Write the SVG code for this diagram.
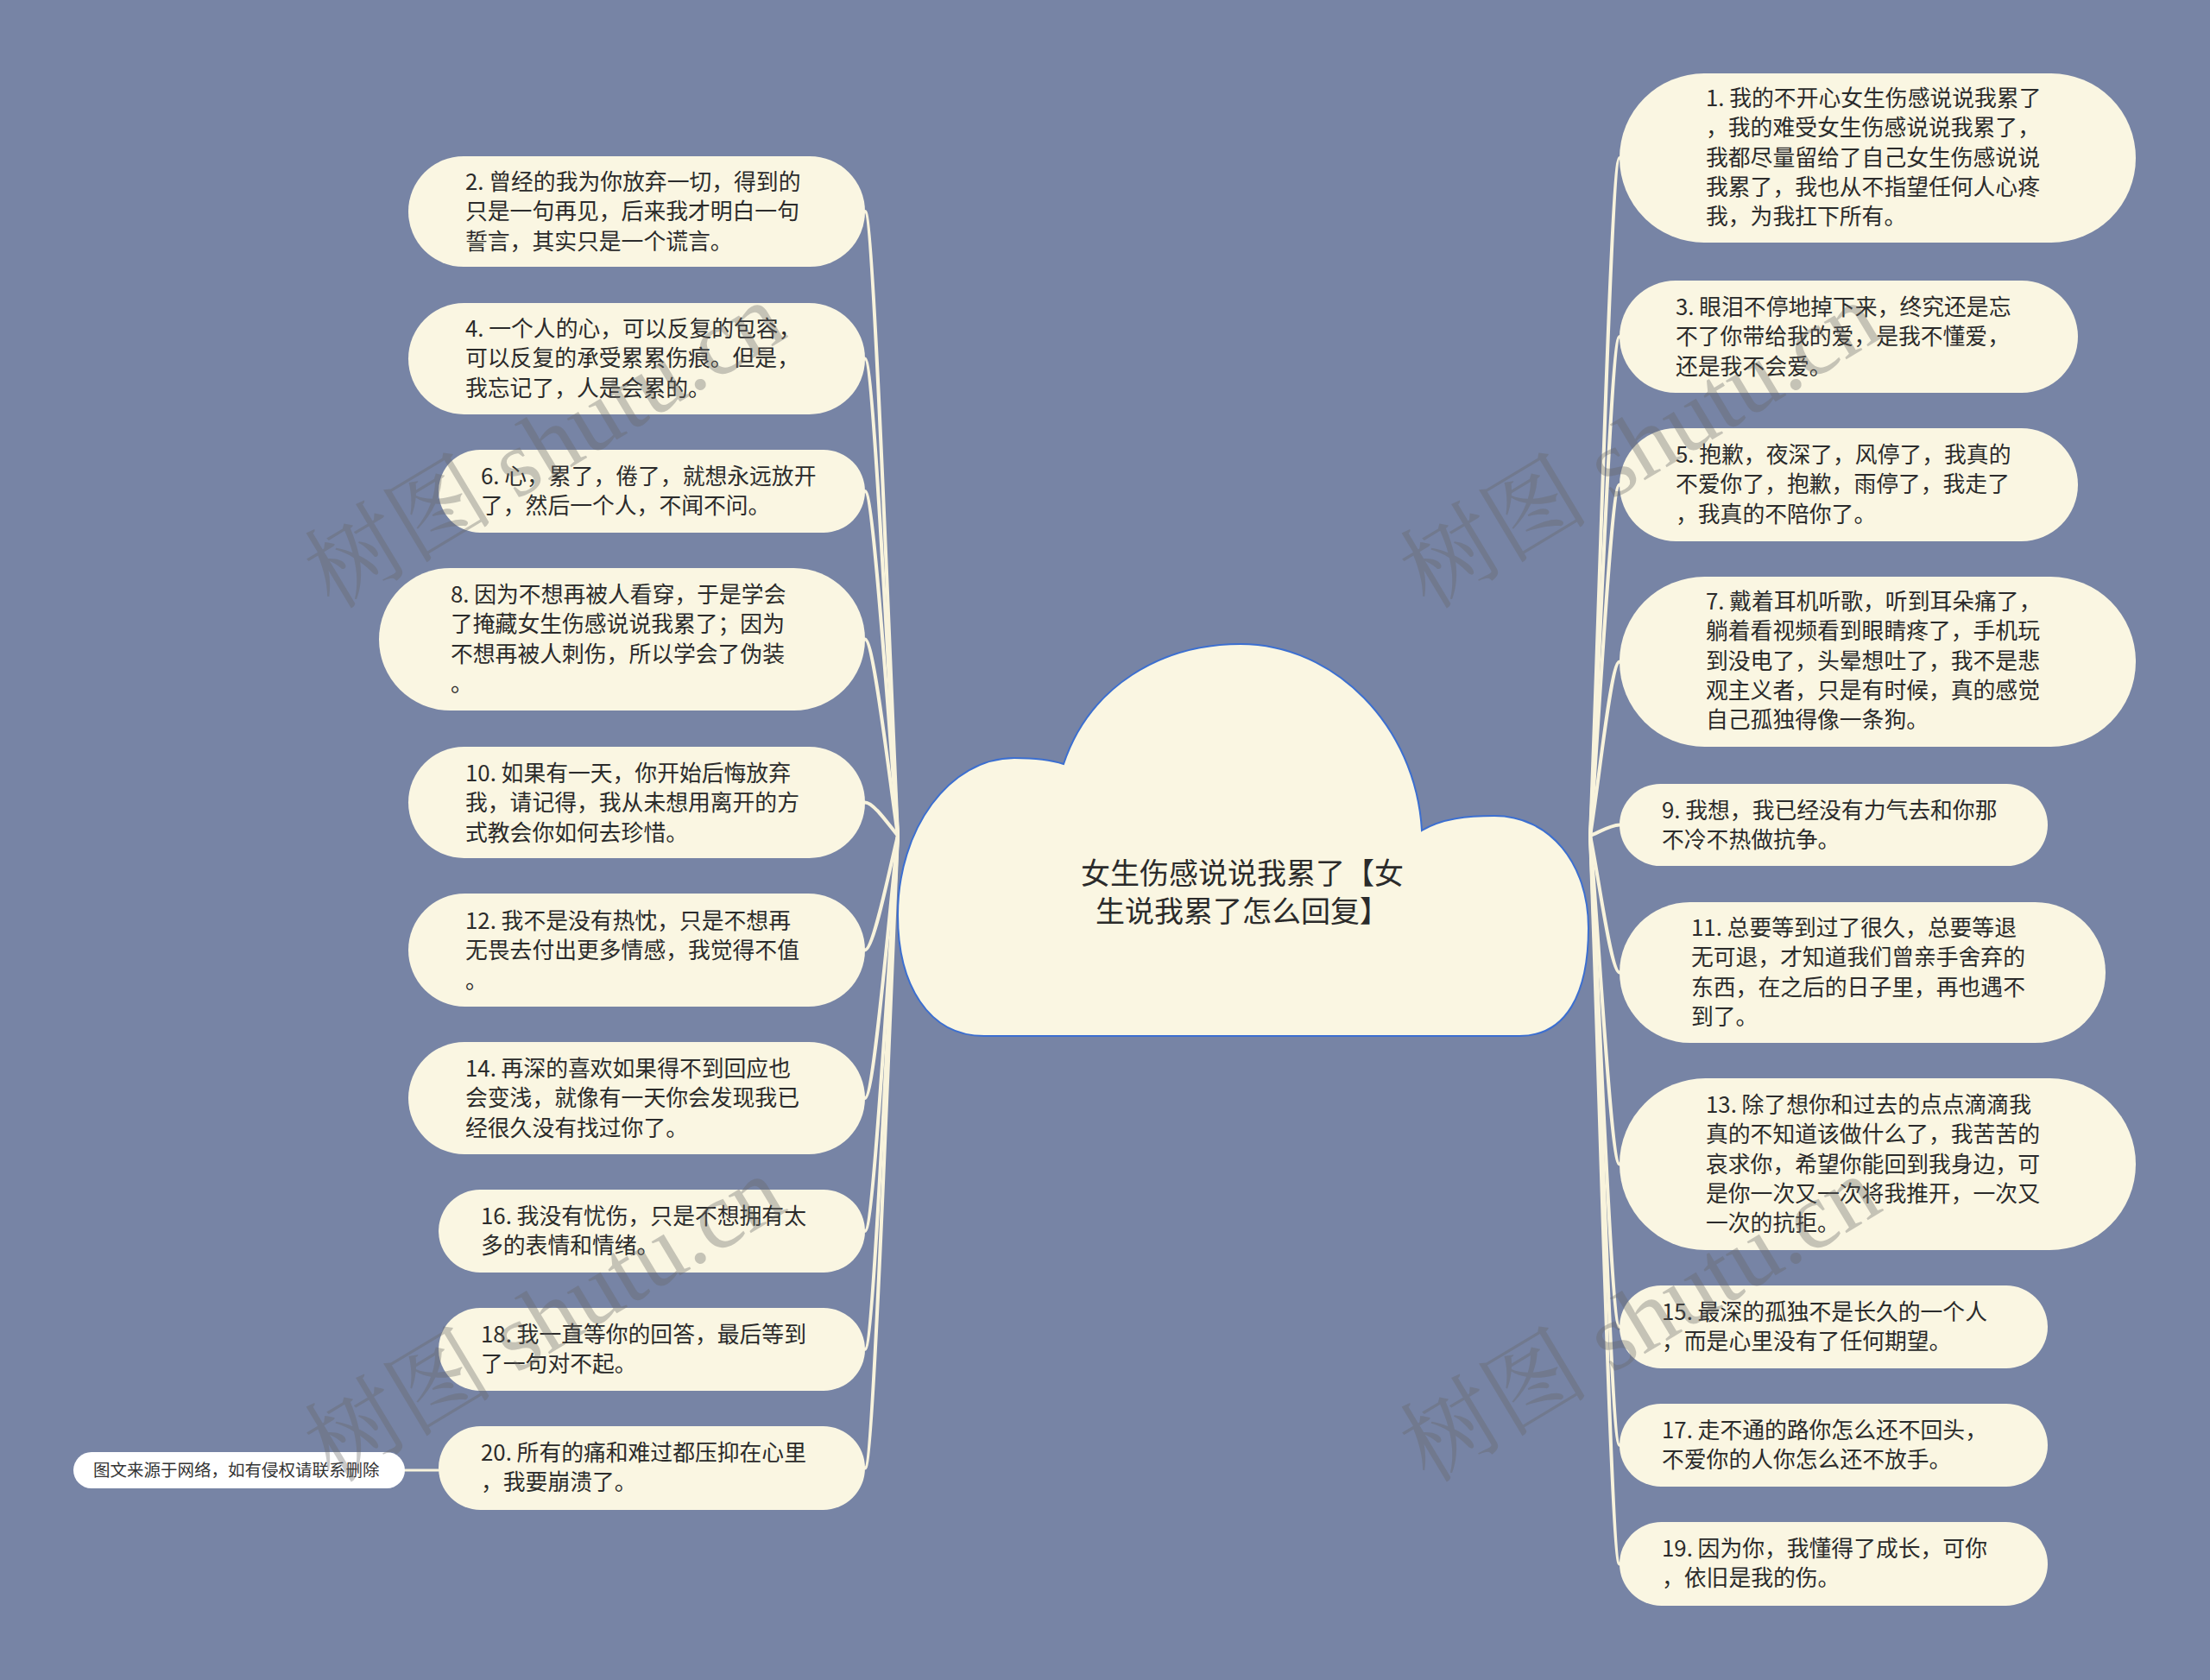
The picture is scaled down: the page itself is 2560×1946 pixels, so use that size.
<svg xmlns="http://www.w3.org/2000/svg" width="2560" height="1946" viewBox="0 0 2560 1946">
<style>
.bg{fill:#7784a5}
.node{fill:#faf6e2}
.t{font-family:"Noto Sans CJK SC","Noto Sans",sans-serif;font-size:25.8px;fill:#2b2b2b}
.title{font-family:"Noto Sans CJK SC","Noto Sans",sans-serif;font-size:34px;fill:#2b2b2b}
.foot{font-family:"Noto Sans CJK SC","Noto Sans",sans-serif;font-size:19.5px;fill:#333}
.c{fill:none;stroke:#f8f3dc;stroke-width:4;stroke-linecap:round}
.wm{font-family:"Liberation Serif","Noto Serif CJK SC","Noto Sans CJK SC",serif;font-size:110px;fill:#666666;opacity:0.35}
</style>
<rect class="bg" x="0" y="0" width="2560" height="1946"/>

<g id="connectors">
<path class="c" d="M1040 968 C1030 751 1012 245 1002 245"/>
<path class="c" d="M1040 968 C1030 802 1012 415.5 1002 415.5"/>
<path class="c" d="M1040 968 C1030 848 1012 569 1002 569"/>
<path class="c" d="M1040 968 C1030 900 1012 740.5 1002 740.5"/>
<path class="c" d="M1040 968 C1030 956 1012 929.5 1002 929.5"/>
<path class="c" d="M1040 968 C1030 1008 1012 1100.5 1002 1100.5"/>
<path class="c" d="M1040 968 C1030 1059 1012 1272 1002 1272"/>
<path class="c" d="M1040 968 C1030 1105 1012 1426 1002 1426"/>
<path class="c" d="M1040 968 C1030 1147 1012 1563 1002 1563"/>
<path class="c" d="M1040 968 C1030 1188 1012 1700.5 1002 1700.5"/>
<path class="c" d="M1842 968 C1852 732 1866 183 1876 183"/>
<path class="c" d="M1842 968 C1852 795 1866 390 1876 390"/>
<path class="c" d="M1842 968 C1852 846 1866 561.5 1876 561.5"/>
<path class="c" d="M1842 968 C1852 908 1866 766.5 1876 766.5"/>
<path class="c" d="M1842 968 C1852 964 1866 955.5 1876 955.5"/>
<path class="c" d="M1842 968 C1852 1016 1866 1126.5 1876 1126.5"/>
<path class="c" d="M1842 968 C1852 1082 1866 1348.5 1876 1348.5"/>
<path class="c" d="M1842 968 C1852 1139 1866 1537 1876 1537"/>
<path class="c" d="M1842 968 C1852 1180 1866 1674 1876 1674"/>
<path class="c" d="M1842 968 C1852 1221 1866 1811.5 1876 1811.5"/>
<path class="c" style="stroke-width:3" d="M469 1703 L508 1703"/>
</g>

<g id="root">
<path d="M1140 1200 C1075 1200 1040 1140 1040 1060 C1040 960 1100 878 1175 878 C1200 878 1220 881 1232 885 C1262 795 1345 746 1437 746 C1545 746 1640 840 1647 962 C1670 948 1700 945 1731 945 C1795 945 1840 1000 1840 1075 C1840 1150 1815 1200 1760 1200 Z" fill="#faf6e2" stroke="#3c6fd0" stroke-width="2"/>
<text class="title" text-anchor="middle"><tspan x="1439" y="1024">女生伤感说说我累了【女</tspan><tspan x="1439" y="1068">生说我累了怎么回复】</tspan></text>
</g>

<g id="n2"><rect class="node" x="473" y="181" width="529" height="128" rx="64"/>
<text class="t"><tspan x="539" y="220">2. 曾经的我为你放弃一切，得到的</tspan><tspan x="539" dy="34.3">只是一句再见，后来我才明白一句</tspan><tspan x="539" dy="34.3">誓言，其实只是一个谎言。</tspan></text></g>
<g id="n4"><rect class="node" x="473" y="351" width="529" height="129" rx="64.5"/>
<text class="t"><tspan x="539" y="390">4. 一个人的心，可以反复的包容，</tspan><tspan x="539" dy="34.3">可以反复的承受累累伤痕。但是，</tspan><tspan x="539" dy="34.3">我忘记了，人是会累的。</tspan></text></g>
<g id="n6"><rect class="node" x="508" y="521" width="494" height="96" rx="48"/>
<text class="t"><tspan x="557" y="561">6. 心，累了，倦了，就想永远放开</tspan><tspan x="557" dy="34.3">了，然后一个人，不闻不问。</tspan></text></g>
<g id="n8"><rect class="node" x="439" y="658" width="563" height="165" rx="82.5"/>
<text class="t"><tspan x="522" y="698">8. 因为不想再被人看穿，于是学会</tspan><tspan x="522" dy="34.3">了掩藏女生伤感说说我累了；因为</tspan><tspan x="522" dy="34.3">不想再被人刺伤，所以学会了伪装</tspan><tspan x="522" dy="34.3">。</tspan></text></g>
<g id="n10"><rect class="node" x="473" y="865" width="529" height="129" rx="64.5"/>
<text class="t"><tspan x="539" y="905">10. 如果有一天，你开始后悔放弃</tspan><tspan x="539" dy="34.3">我，请记得，我从未想用离开的方</tspan><tspan x="539" dy="34.3">式教会你如何去珍惜。</tspan></text></g>
<g id="n12"><rect class="node" x="473" y="1035" width="529" height="131" rx="65.5"/>
<text class="t"><tspan x="539" y="1076">12. 我不是没有热忱，只是不想再</tspan><tspan x="539" dy="34.3">无畏去付出更多情感，我觉得不值</tspan><tspan x="539" dy="34.3">。</tspan></text></g>
<g id="n14"><rect class="node" x="473" y="1207" width="529" height="130" rx="65"/>
<text class="t"><tspan x="539" y="1247">14. 再深的喜欢如果得不到回应也</tspan><tspan x="539" dy="34.3">会变浅，就像有一天你会发现我已</tspan><tspan x="539" dy="34.3">经很久没有找过你了。</tspan></text></g>
<g id="n16"><rect class="node" x="508" y="1378" width="494" height="96" rx="48"/>
<text class="t"><tspan x="557" y="1418">16. 我没有忧伤，只是不想拥有太</tspan><tspan x="557" dy="34.3">多的表情和情绪。</tspan></text></g>
<g id="n18"><rect class="node" x="508" y="1515" width="494" height="96" rx="48"/>
<text class="t"><tspan x="557" y="1555">18. 我一直等你的回答，最后等到</tspan><tspan x="557" dy="34.3">了一句对不起。</tspan></text></g>
<g id="n20"><rect class="node" x="508" y="1652" width="494" height="97" rx="48.5"/>
<text class="t"><tspan x="557" y="1692">20. 所有的痛和难过都压抑在心里</tspan><tspan x="557" dy="34.3">，我要崩溃了。</tspan></text></g>

<g id="note"><rect x="85" y="1682" width="384" height="42" rx="21" fill="#ffffff"/>
<text class="foot" x="108" y="1710">图文来源于网络，如有侵权请联系删除</text></g>

<g id="n1"><rect class="node" x="1876" y="85" width="598" height="196" rx="98"/>
<text class="t"><tspan x="1976" y="123">1. 我的不开心女生伤感说说我累了</tspan><tspan x="1976" dy="34.3">，我的难受女生伤感说说我累了，</tspan><tspan x="1976" dy="34.3">我都尽量留给了自己女生伤感说说</tspan><tspan x="1976" dy="34.3">我累了，我也从不指望任何人心疼</tspan><tspan x="1976" dy="34.3">我，为我扛下所有。</tspan></text></g>
<g id="n3"><rect class="node" x="1876" y="325" width="531" height="130" rx="65"/>
<text class="t"><tspan x="1941" y="365">3. 眼泪不停地掉下来，终究还是忘</tspan><tspan x="1941" dy="34.3">不了你带给我的爱，是我不懂爱，</tspan><tspan x="1941" dy="34.3">还是我不会爱。</tspan></text></g>
<g id="n5"><rect class="node" x="1876" y="496" width="531" height="131" rx="65.5"/>
<text class="t"><tspan x="1941" y="536">5. 抱歉，夜深了，风停了，我真的</tspan><tspan x="1941" dy="34.3">不爱你了，抱歉，雨停了，我走了</tspan><tspan x="1941" dy="34.3">，我真的不陪你了。</tspan></text></g>
<g id="n7"><rect class="node" x="1876" y="668" width="598" height="197" rx="98.5"/>
<text class="t"><tspan x="1976" y="706">7. 戴着耳机听歌，听到耳朵痛了，</tspan><tspan x="1976" dy="34.3">躺着看视频看到眼睛疼了，手机玩</tspan><tspan x="1976" dy="34.3">到没电了，头晕想吐了，我不是悲</tspan><tspan x="1976" dy="34.3">观主义者，只是有时候，真的感觉</tspan><tspan x="1976" dy="34.3">自己孤独得像一条狗。</tspan></text></g>
<g id="n9"><rect class="node" x="1876" y="908" width="496" height="95" rx="47.5"/>
<text class="t"><tspan x="1925" y="948">9. 我想，我已经没有力气去和你那</tspan><tspan x="1925" dy="34.3">不冷不热做抗争。</tspan></text></g>
<g id="n11"><rect class="node" x="1876" y="1045" width="563" height="163" rx="81.5"/>
<text class="t"><tspan x="1959" y="1084">11. 总要等到过了很久，总要等退</tspan><tspan x="1959" dy="34.3">无可退，才知道我们曾亲手舍弃的</tspan><tspan x="1959" dy="34.3">东西，在之后的日子里，再也遇不</tspan><tspan x="1959" dy="34.3">到了。</tspan></text></g>
<g id="n13"><rect class="node" x="1876" y="1249" width="598" height="199" rx="99.5"/>
<text class="t"><tspan x="1976" y="1289">13. 除了想你和过去的点点滴滴我</tspan><tspan x="1976" dy="34.3">真的不知道该做什么了，我苦苦的</tspan><tspan x="1976" dy="34.3">哀求你，希望你能回到我身边，可</tspan><tspan x="1976" dy="34.3">是你一次又一次将我推开，一次又</tspan><tspan x="1976" dy="34.3">一次的抗拒。</tspan></text></g>
<g id="n15"><rect class="node" x="1876" y="1489" width="496" height="96" rx="48"/>
<text class="t"><tspan x="1925" y="1529">15. 最深的孤独不是长久的一个人</tspan><tspan x="1925" dy="34.3">，而是心里没有了任何期望。</tspan></text></g>
<g id="n17"><rect class="node" x="1876" y="1626" width="496" height="96" rx="48"/>
<text class="t"><tspan x="1925" y="1666">17. 走不通的路你怎么还不回头，</tspan><tspan x="1925" dy="34.3">不爱你的人你怎么还不放手。</tspan></text></g>
<g id="n19"><rect class="node" x="1876" y="1763" width="496" height="97" rx="48.5"/>
<text class="t"><tspan x="1925" y="1803">19. 因为你，我懂得了成长，可你</tspan><tspan x="1925" dy="34.3">，依旧是我的伤。</tspan></text></g>

<g id="watermarks">
<text class="wm" text-anchor="middle" transform="translate(650 548) rotate(-31)">树图 shutu.cn</text>
<text class="wm" text-anchor="middle" transform="translate(1919 548) rotate(-31)">树图 shutu.cn</text>
<text class="wm" text-anchor="middle" transform="translate(650 1560) rotate(-31)">树图 shutu.cn</text>
<text class="wm" text-anchor="middle" transform="translate(1919 1560) rotate(-31)">树图 shutu.cn</text>
</g>
</svg>
